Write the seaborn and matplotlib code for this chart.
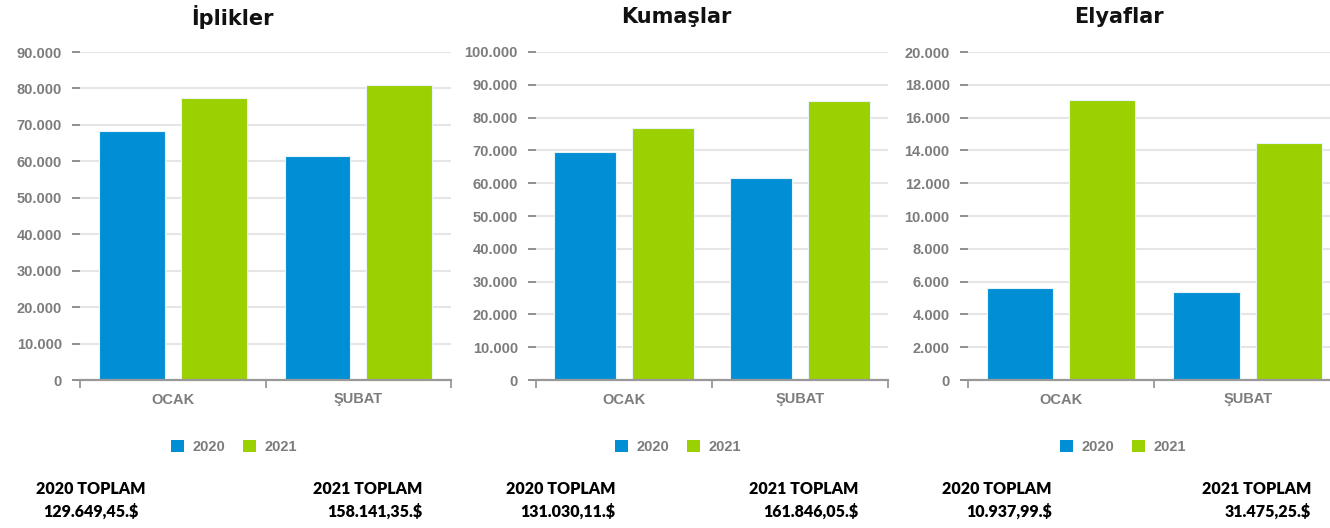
import matplotlib
matplotlib.use("Agg")
import matplotlib.pyplot as plt
import seaborn as sns
import pandas as pd
from matplotlib.patches import Patch

# ---- data ----
months = ["OCAK", "ŞUBAT"]
years = ["2020", "2021"]
titles = ["İplikler", "Kumaşlar", "Elyaflar"]
iplik_2020 = [68200, 61450]
iplik_2021 = [77250, 80890]
kumas_2020 = [69400, 61630]
kumas_2021 = [76700, 85150]
elyaf_2020 = [5600, 5340]
elyaf_2021 = [17050, 14430]
ymax = [90000, 100000, 20000]
ystep = [10000, 10000, 2000]
total_2020 = ["129.649,45.$", "131.030,11.$", "10.937,99.$"]
total_2021 = ["158.141,35.$", "161.846,05.$", "31.475,25.$"]

series = [(iplik_2020, iplik_2021), (kumas_2020, kumas_2021), (elyaf_2020, elyaf_2021)]

sns.set_theme(style="white")
plt.rcParams["font.family"] = ["Liberation Sans", "DejaVu Sans"]

BLUE = "#008FD5"
GREEN = "#9BD100"
GRAY = "#7c7c7c"

W, H = 1330, 528
fig = plt.figure(figsize=(W / 100, H / 100), dpi=100)

axes_px = [(80, 371.3), (536, 352), (967.7, 373.3)]
title_x = [232, 676, 1119]
legend_x = [234, 678, 1123]
t2020_x = [(91, "center"), (615, "right"), (1052, "right")]
t2021_x = [(422, "right"), (858, "right"), (1311, "right")]


def tr_fmt(v):
    return f"{int(v):,}".replace(",", ".")


for i in range(3):
    left, width = axes_px[i]
    ax = fig.add_axes([left / W, 148 / H, width / W, 328 / H])
    a, b = series[i]
    df = pd.DataFrame({
        "month": months * 2,
        "year": [years[0]] * 2 + [years[1]] * 2,
        "value": list(a) + list(b),
    })
    sns.barplot(data=df, x="month", y="value", hue="year", order=months,
                hue_order=years, palette=[BLUE, GREEN], saturation=1,
                width=0.882, gap=0.195,
                edgecolor="#e8f4fb", linewidth=0.8, ax=ax, legend=False, zorder=3)
    ax.set_xlim(-0.5, 1.5)
    ax.set_ylim(0, ymax[i])
    yt = list(range(0, ymax[i] + 1, ystep[i]))
    ax.set_yticks(yt)
    ax.set_yticklabels([tr_fmt(v) for v in yt], fontweight="bold", color=GRAY,
                       fontsize=10.5, family="Liberation Sans")
    ax.set_xticks([0, 1])
    ax.set_xticklabels(months, fontweight="bold", color=GRAY, fontsize=10.5,
                       family="Liberation Sans")
    ax.grid(axis="y", color="#e6e6e6", linewidth=1.5, zorder=0)
    ax.set_axisbelow(True)
    for s in ["left", "right", "top"]:
        ax.spines[s].set_visible(False)
    ax.spines["bottom"].set_color("#999999")
    ax.spines["bottom"].set_linewidth(1.6)
    ax.spines["bottom"].set_zorder(4)
    ax.set_xlabel("")
    ax.set_ylabel("")
    ax.tick_params(axis="y", which="major", left=True, length=6, width=1.2,
                   color=GRAY, pad=7)
    ax.tick_params(axis="x", which="major", bottom=False, pad=3)
    ax.set_xticks([-0.5, 0.5, 1.5], minor=True)
    ax.tick_params(axis="x", which="minor", bottom=True, length=6, width=1.3,
                   color="#999999", direction="out")

    fig.text(title_x[i] / W, 1 - 17 / H, titles[i], ha="center", va="center",
             fontsize=15, fontweight="bold", color="#111111", family="DejaVu Sans")

    handles = [Patch(facecolor=BLUE, edgecolor="none"), Patch(facecolor=GREEN, edgecolor="none")]
    leg = fig.legend(handles, years, loc="center", ncol=2, frameon=False,
                     bbox_to_anchor=(legend_x[i] / W, 1 - 447 / H),
                     handlelength=0.9, handleheight=0.9, handletextpad=0.6,
                     columnspacing=1.2,
                     prop={"family": "Liberation Sans", "weight": "bold", "size": 10.5})
    for t in leg.get_texts():
        t.set_color(GRAY)

    x0, ha0 = t2020_x[i]
    x1, ha1 = t2021_x[i]
    tprops = dict(fontsize=11.5, fontweight="heavy", color="black", family="Lato", va="center")
    fig.text(x0 / W, 1 - 489 / H, "2020 TOPLAM", ha=ha0, **tprops)
    fig.text(x0 / W, 1 - 512 / H, total_2020[i], ha=ha0, **tprops)
    fig.text(x1 / W, 1 - 489 / H, "2021 TOPLAM", ha=ha1, **tprops)
    fig.text(x1 / W, 1 - 512 / H, total_2021[i], ha=ha1, **tprops)

fig.savefig("out.png", dpi=100, facecolor="white")
